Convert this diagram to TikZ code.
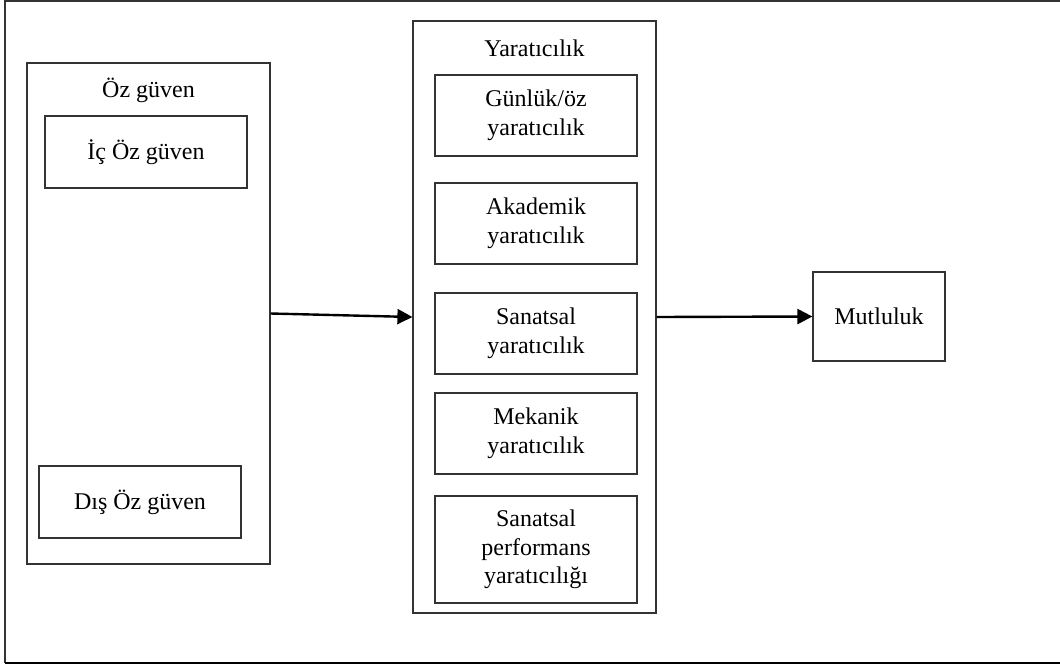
\documentclass[tikz,border=0pt]{standalone}
\usepackage{fontspec}
\setmainfont{Liberation Serif}
\usetikzlibrary{arrows.meta}
\begin{document}
\begin{tikzpicture}[x=1pt,y=-1pt,
  font=\fontsize{24}{28.5}\selectfont,
  box/.style={draw=black!80, line width=1.2pt, inner sep=0pt, align=center},
  lbl/.style={inner sep=0pt, align=center},
  conn/.style={line width=2.4pt, -{Triangle[length=15pt,width=15pt]}}]
\useasboundingbox (0,0) rectangle (1060,670);
% outer frame
\coordinate (fa) at (1060,1);
\coordinate (fb) at (5,1);
\coordinate (fc) at (5,663);
\coordinate (fd) at (1060,663);
\draw[draw=black!80, line width=1.2pt] (fa) -- (fb) -- (fc);
\draw[line width=2.4pt] (fc) -- (fd);
% Öz güven group
\node[box, minimum width=243pt, minimum height=501pt] (oz) at (148.5,313.5) {};
\node[lbl] (ozl) at (148.5,90) {Öz güven};
\node[box, minimum width=202pt, minimum height=72pt] (ic) at (146,152) {İç Öz güven};
\node[box, minimum width=202pt, minimum height=72pt] (dis) at (140,502) {Dış Öz güven};
% Yaratıcılık group
\node[box, minimum width=243pt, minimum height=592pt] (yar) at (534.5,317) {};
\node[lbl] (yarl) at (534.5,48) {Yaratıcılık};
\node[box, minimum width=202pt, minimum height=81pt] (g1) at (536,115.5) {Günlük/öz\\yaratıcılık};
\node[box, minimum width=202pt, minimum height=81pt] (g2) at (536,223.5) {Akademik\\yaratıcılık};
\node[box, minimum width=202pt, minimum height=81pt] (g3) at (536,333.5) {Sanatsal\\yaratıcılık};
\node[box, minimum width=202pt, minimum height=81pt] (g4) at (536,433.5) {Mekanik\\yaratıcılık};
\node[box, minimum width=202pt, minimum height=107pt] (g5) at (536,549.5) {Sanatsal\\performans\\yaratıcılığı};
% Mutluluk
\node[box, minimum width=132pt, minimum height=89pt] (mut) at (879,316.5) {Mutluluk};
% connectors
\draw[conn] (oz.east) -- (yar.west);
\draw[conn] (yar.east) -- (mut.west);
\end{tikzpicture}
\end{document}
